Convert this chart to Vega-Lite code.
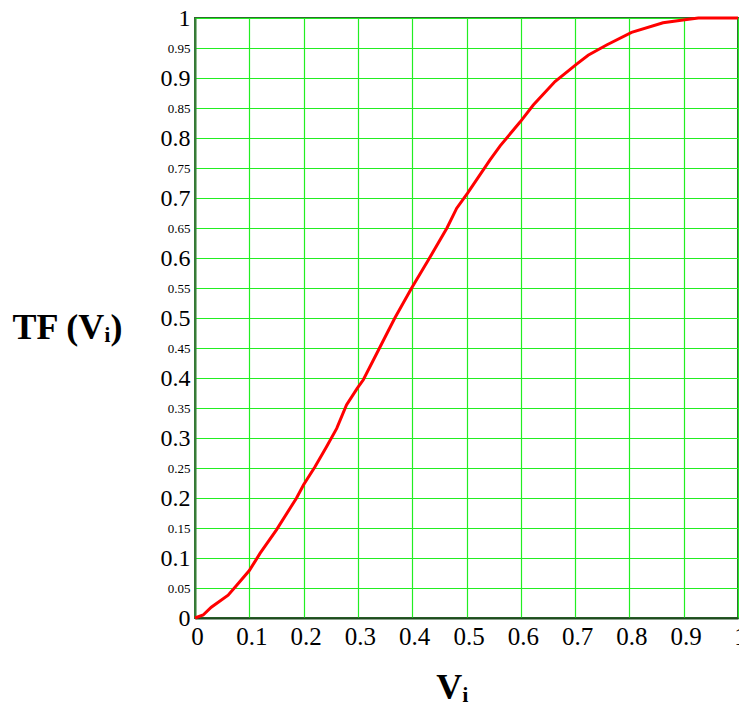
{
  "$schema": "https://vega.github.io/schema/vega-lite/v6.json",
  "width": 543,
  "height": 600,
  "autosize": {"type": "none"},
  "padding": {"left": 195, "top": 18, "right": 1, "bottom": 90},
  "background": "white",
  "config": {
    "view": {"stroke": "#2f6a2f", "strokeWidth": 2},
    "font": "Liberation Serif"
  },
  "data": {
    "values": [
      {"v": 0, "tf": 0},
      {"v": 0.015, "tf": 0.005},
      {"v": 0.03, "tf": 0.018},
      {"v": 0.061, "tf": 0.038},
      {"v": 0.08, "tf": 0.058},
      {"v": 0.1, "tf": 0.079},
      {"v": 0.12, "tf": 0.108},
      {"v": 0.15, "tf": 0.147},
      {"v": 0.187, "tf": 0.2},
      {"v": 0.2, "tf": 0.222},
      {"v": 0.221, "tf": 0.252},
      {"v": 0.242, "tf": 0.285},
      {"v": 0.261, "tf": 0.316},
      {"v": 0.279, "tf": 0.355},
      {"v": 0.299, "tf": 0.383},
      {"v": 0.31, "tf": 0.397},
      {"v": 0.341, "tf": 0.452},
      {"v": 0.368, "tf": 0.5},
      {"v": 0.399, "tf": 0.55},
      {"v": 0.43, "tf": 0.597},
      {"v": 0.464, "tf": 0.65},
      {"v": 0.482, "tf": 0.683},
      {"v": 0.502, "tf": 0.708},
      {"v": 0.543, "tf": 0.763},
      {"v": 0.562, "tf": 0.787},
      {"v": 0.599, "tf": 0.827},
      {"v": 0.623, "tf": 0.855},
      {"v": 0.663, "tf": 0.894},
      {"v": 0.704, "tf": 0.924},
      {"v": 0.724, "tf": 0.938},
      {"v": 0.758, "tf": 0.955},
      {"v": 0.804, "tf": 0.976},
      {"v": 0.862, "tf": 0.992},
      {"v": 0.902, "tf": 0.997},
      {"v": 0.927, "tf": 1},
      {"v": 1, "tf": 1}
    ]
  },
  "mark": {"type": "line", "color": "#ff0000", "strokeWidth": 3, "clip": false},
  "encoding": {
    "x": {
      "field": "v",
      "type": "quantitative",
      "scale": {"domain": [0, 1], "nice": false, "zero": false},
      "axis": {
        "values": [0, 0.1, 0.2, 0.3, 0.4, 0.5, 0.6, 0.7, 0.8, 0.9, 1],
        "format": "~g",
        "title": "Vᵢ",
        "titleFont": "Liberation Serif",
        "titleFontSize": 36,
        "titleFontWeight": "bold",
        "titleColor": "black",
        "titleAlign": "center",
        "titleBaseline": "alphabetic",
        "titleX": 257,
        "titleY": 80,
        "labelFont": "Liberation Serif",
        "labelFontSize": 25,
        "labelColor": "black",
        "labelPadding": 6,
        "labelFlush": false,
        "labelOverlap": false,
        "labelBound": false,
        "labelAlign": "center",
        "labelOffset": 2,
        "ticks": false,
        "domainColor": "#1f4a1f",
        "domainWidth": 2,
        "gridColor": "#22ee22",
        "gridWidth": 1.2,
        "gridOpacity": 1
      }
    },
    "y": {
      "field": "tf",
      "type": "quantitative",
      "scale": {"domain": [0, 1], "nice": false, "zero": false},
      "axis": {
        "values": [0, 0.05, 0.1, 0.15, 0.2, 0.25, 0.3, 0.35, 0.4, 0.45, 0.5, 0.55, 0.6, 0.65, 0.7, 0.75, 0.8, 0.85, 0.9, 0.95, 1],
        "format": "~g",
        "title": "TF (Vᵢ)",
        "titleFont": "Liberation Serif",
        "titleFontSize": 36,
        "titleFontWeight": "bold",
        "titleColor": "black",
        "titleAngle": 0,
        "titleAlign": "left",
        "titleBaseline": "alphabetic",
        "titleX": -183,
        "titleY": 320,
        "labelFont": "Liberation Serif",
        "labelFontSize": {"condition": {"test": "round(datum.value * 100) % 10 === 0", "value": 24}, "value": 13},
        "labelColor": "black",
        "labelPadding": 5,
        "labelFlush": false,
        "labelOverlap": false,
        "labelBound": false,
        "ticks": false,
        "domainColor": "#3a7a3a",
        "domainWidth": 2,
        "gridColor": "#22ee22",
        "gridWidth": 1.2,
        "gridOpacity": 1
      }
    }
  }
}
